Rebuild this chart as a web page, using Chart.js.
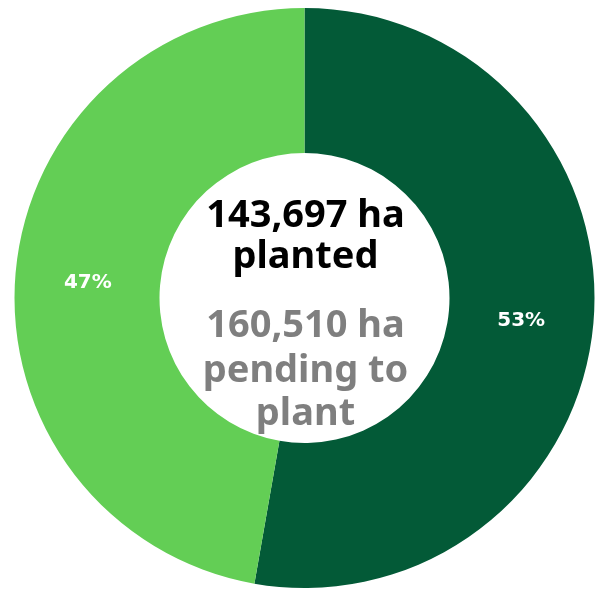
<!DOCTYPE html>
<html>
<head>
<meta charset="utf-8">
<script src="https://cdn.jsdelivr.net/npm/chart.js@4.4.0/dist/chart.umd.min.js"></script>
<style>
  html, body { margin: 0; padding: 0; background: #fff; }
  #wrap { width: 595px; height: 590px; position: relative; }
</style>
</head>
<body>
<div id="wrap"><canvas id="myChart"></canvas></div>
<script>
var labels = ["Pending to plant", "Planted"];
var hectares = [160510, 143697];
var colors = ['#035a37', '#63ce55'];
var centerLines = [
    { text: "143,697 ha", color: '#000000' },
    { text: "planted", color: '#000000' },
    { text: "160,510 ha", color: '#7f7f7f' },
    { text: "pending to", color: '#7f7f7f' },
    { text: "plant", color: '#7f7f7f' }
];

//* percent labels inside the ring
var sliceLabels = {
    id: 'sliceLabels',
    afterDatasetsDraw: function(chart) {
        var ctx = chart.ctx;
        var meta = chart.getDatasetMeta(0);
        var total = hectares.reduce(function(a, b) { return a + b; }, 0);
        ctx.save();
        ctx.font = 'bold 20px "DejaVu Sans", sans-serif';
        ctx.fillStyle = '#ffffff';
        ctx.textAlign = 'center';
        ctx.textBaseline = 'middle';
        meta.data.forEach(function(arc, i) {
            var p = arc.tooltipPosition();
            ctx.fillText(Math.round(hectares[i] / total * 100) + '%', p.x, p.y + 4);
        });
        ctx.restore();
    }
};

//* text in the hole (baselines)
var centerText = {
    id: 'centerText',
    afterDraw: function(chart) {
        var ctx = chart.ctx;
        var arc = chart.getDatasetMeta(0).data[0];
        var cx = arc.x, cy = arc.y;
        var offsets = [-71, -30, 39, 84, 127];
        ctx.save();
        ctx.font = 'bold 38px "Noto Sans", sans-serif';
        ctx.textAlign = 'center';
        ctx.textBaseline = 'alphabetic';
        centerLines.forEach(function(line, i) {
            ctx.fillStyle = line.color;
            ctx.fillText(line.text, cx + 1, cy + offsets[i]);
        });
        ctx.restore();
    }
};

var ctx = document.getElementById('myChart').getContext('2d');
var myChart = new Chart(ctx, {
    type: 'doughnut',
    data: {
        labels: labels,
        datasets: [{
            data: hectares,
            backgroundColor: colors,
            borderColor: '#ffffff',
            borderWidth: 0
        }]
    },
    options: {
        responsive: true,
        maintainAspectRatio: false,
        animation: false,
        cutout: '50%',
        layout: { padding: { left: 14, right: 0, top: 8, bottom: 2 } },
        plugins: {
            legend: { display: false },
            tooltip: { enabled: false }
        }
    },
    plugins: [sliceLabels, centerText]
});
</script>
</body>
</html>
